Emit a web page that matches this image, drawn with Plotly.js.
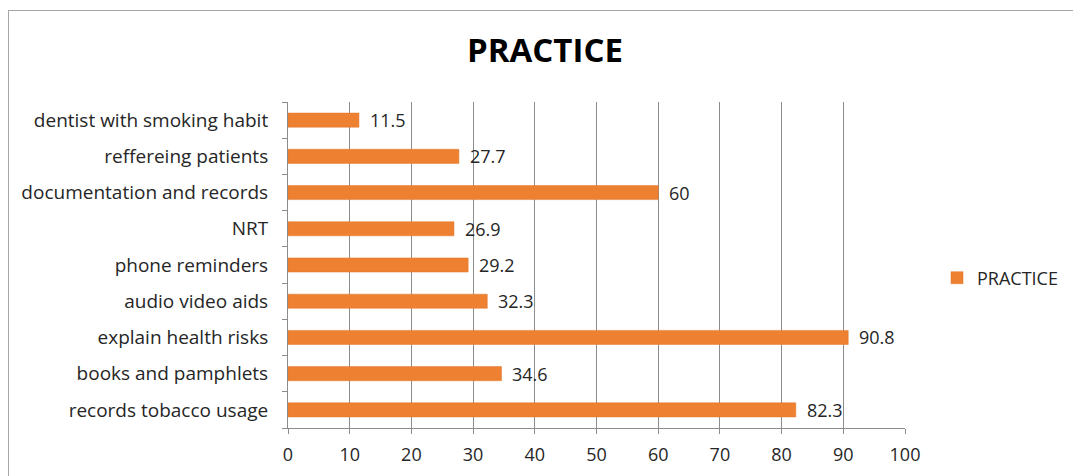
<!DOCTYPE html>
<html>
<head>
<meta charset="utf-8">
<script src="https://cdn.plot.ly/plotly-3.0.1.min.js"></script>
<style>
html,body{margin:0;padding:0;background:#fff;}
#wrap{position:relative;width:1073px;height:476px;overflow:hidden;}
#chart{width:1073px;height:476px;}
#frame{position:absolute;left:8px;top:10px;width:1100px;height:500px;border:1.5px solid #a6a6a6;pointer-events:none;box-sizing:border-box;}
</style>
</head>
<body>
<div id="wrap"><div id="chart"></div><div id="frame"></div></div>
<script>
const categories = [
  "records tobacco usage",
  "books and pamphlets",
  "explain health risks",
  "audio video aids",
  "phone reminders",
  "NRT",
  "documentation and records",
  "reffereing patients",
  "dentist with smoking habit"
];
const practiceValues = [82.3, 34.6, 90.8, 32.3, 29.2, 26.9, 60, 27.7, 11.5];
const seriesName = "PRACTICE";
const chartTitle = "PRACTICE";
const xTicks = [0, 10, 20, 30, 40, 50, 60, 70, 80, 90, 100];

const FONT = "'Open Sans', sans-serif";

const trace = {
  type: "bar",
  orientation: "h",
  y: categories,
  x: practiceValues,
  name: seriesName,
  marker: {color: "#EE8031", line: {color: "#E2762A", width: 0.5}},
  hoverinfo: "x+y",
  showlegend: true
};

const annotations = categories.map((c, i) => ({
  x: practiceValues[i],
  y: c,
  xref: "x",
  yref: "y",
  text: String(practiceValues[i]),
  showarrow: false,
  xanchor: "left",
  yanchor: "middle",
  xshift: 9,
  font: {family: FONT, size: 18, color: "#262626"}
}));

const layout = {
  width: 1073,
  height: 476,
  paper_bgcolor: "#ffffff",
  plot_bgcolor: "#ffffff",
  margin: {l: 288, r: 168, t: 102, b: 48},
  title: {
    text: "<b>" + chartTitle + "</b>",
    font: {family: FONT, size: 33, color: "#000000"},
    x: 545 / 1073,
    xanchor: "center",
    y: 1 - 50 / 476,
    yanchor: "middle"
  },
  bargap: 0.61,
  xaxis: {
    range: [0, 100],
    tickvals: xTicks,
    ticktext: xTicks.map(String),
    showgrid: true,
    gridcolor: "#8c8c8c",
    gridwidth: 1,
    zeroline: false,
    showline: true,
    linecolor: "#8c8c8c",
    linewidth: 1,
    ticks: "outside",
    ticklen: 5,
    tickcolor: "#8c8c8c",
    tickfont: {family: FONT, size: 18, color: "#262626"},
    ticklabelstandoff: 5,
    automargin: false,
    fixedrange: true
  },
  yaxis: {
    type: "category",
    categoryorder: "array",
    categoryarray: categories,
    range: [-0.5, categories.length - 0.5],
    showgrid: false,
    zeroline: false,
    showline: true,
    linecolor: "#8c8c8c",
    linewidth: 1,
    ticks: "outside",
    tickson: "boundaries",
    ticklen: 5,
    tickcolor: "#8c8c8c",
    tickfont: {family: FONT, size: 19, color: "#262626"},
    ticklabelstandoff: 15,
    automargin: false,
    fixedrange: true
  },
  legend: {
    xref: "container",
    yref: "container",
    x: 937 / 1073,
    xanchor: "left",
    y: 1 - 278 / 476,
    yanchor: "middle",
    font: {family: FONT, size: 18, color: "#262626"},
    bgcolor: "rgba(0,0,0,0)",
    itemwidth: 30
  },
  annotations: annotations
};

Plotly.newPlot("chart", [trace], layout, {displayModeBar: false, staticPlot: true});
</script>
</body>
</html>
